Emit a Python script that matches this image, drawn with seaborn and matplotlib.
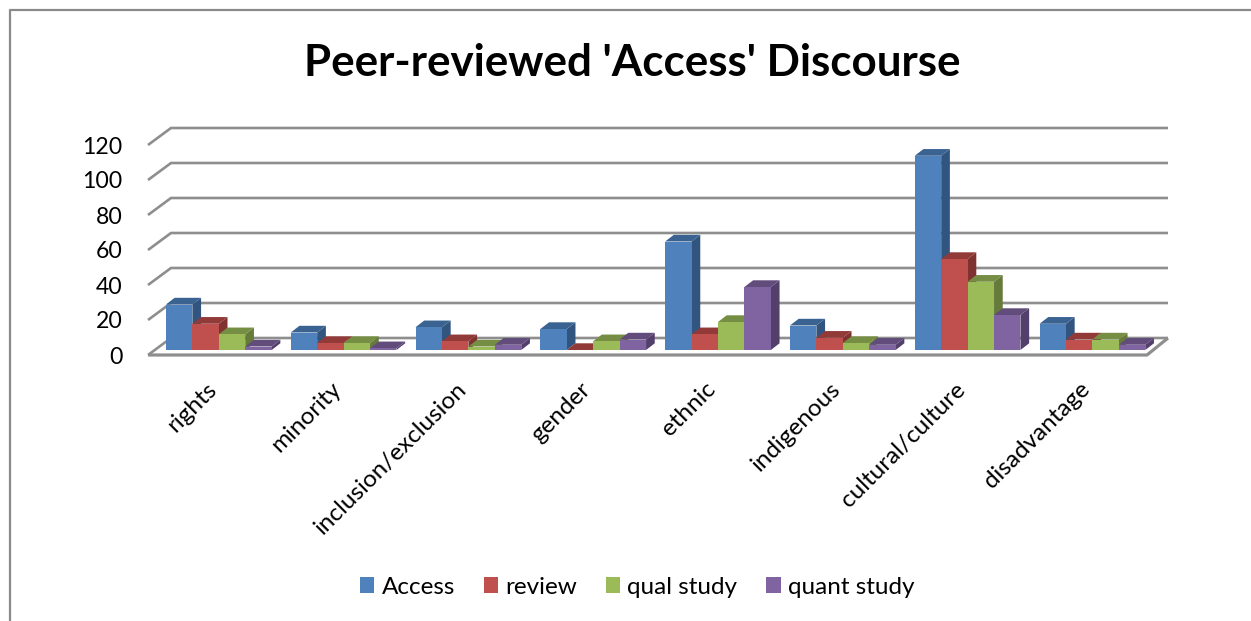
import matplotlib
matplotlib.use("Agg")
import matplotlib.pyplot as plt
from matplotlib.patches import Polygon, Patch
from matplotlib.transforms import ScaledTranslation
import pandas as pd
import seaborn as sns

categories = ["rights", "minority", "inclusion/exclusion", "gender", "ethnic",
              "indigenous", "cultural/culture", "disadvantage"]
series_names = ["Access", "review", "qual study", "quant study"]
access = [26, 10, 13, 12, 62, 14, 111, 15]
review = [15, 4, 5, 0, 9, 7, 52, 6]
qual_study = [9, 4, 2, 5, 16, 4, 39, 6]
quant_study = [2, 1, 3, 6, 36, 3, 20, 3]
y_ticks = [0, 20, 40, 60, 80, 100, 120]
front_colors = ["#4F81BD", "#C0504D", "#9BBB59", "#8064A2"]
top_colors = ["#3A6391", "#923A38", "#758E43", "#614C7C"]
side_colors = ["#32557F", "#7F322F", "#667B3A", "#533F6C"]

W, H = 1251, 621
sns.set_theme(style="white")
plt.rcParams["font.family"] = ["Lato", "DejaVu Sans"]
fig = plt.figure(figsize=(W / 100, H / 100), dpi=100)
fig.patch.set_facecolor("white")

# axes box in pixels: front-left of floor to back-right of the wall
L, R, T, B = 148, 1168, 128, 355
ax = fig.add_axes([L / W, 1 - B / H, (R - L) / W, (B - T) / H])
px_per_unit = 1.75
px_per_cat = 124.8
x0_px = 218.8
ax.set_facecolor("none")

long = pd.DataFrame({
    "category": categories * 4,
    "series": [s for s in series_names for _ in categories],
    "value": access + review + qual_study + quant_study,
})
floor = 5 / px_per_unit
sns.barplot(data=long, x="category", y="value", hue="series", order=categories,
            hue_order=series_names, palette=front_colors, width=0.847, gap=0,
            bottom=floor, saturation=1, legend=False, ax=ax, linewidth=0, errorbar=None)
ax.set_xlim((L - x0_px) / px_per_cat, (R - x0_px) / px_per_cat)
ax.set_ylim(0, (B - T) / px_per_unit)
ax.set_xlabel("")
ax.set_ylabel("")
for s in ax.spines.values():
    s.set_visible(False)

# wall / floor geometry (depth of the chart box)
wall_dx = 23 / px_per_cat
wall_dy = 17 / px_per_unit
xl, xr = ax.get_xlim()
xr_front = xr - wall_dx + 2 / px_per_cat
grid_c = "#8E8E8E"
for v in y_ticks:
    ax.plot([xl, xl + wall_dx, xr], [v, v + wall_dy, v + wall_dy], color=grid_c, lw=1.9,
            zorder=1, clip_on=False, solid_capstyle="butt", solid_joinstyle="miter")
ax.plot([xl, xr_front, xr], [0, 0, wall_dy], color=grid_c, lw=2.3, zorder=1, clip_on=False,
        solid_capstyle="butt")

# extrude the bars that seaborn drew
depth_x = 8.7 / px_per_cat
depth_y = 6.7 / px_per_unit
items = []
for idx, container in enumerate(ax.containers):
    for bar in container:
        items.append((bar.get_x(), idx, bar))
z = 2
for x_, idx, bar in sorted(items, key=lambda t: t[0]):
    w = bar.get_width()
    y0 = bar.get_y()
    y1 = y0 + bar.get_height()
    ax.add_patch(Polygon([(x_ + w, y0), (x_ + w + depth_x, y0 + depth_y),
                          (x_ + w + depth_x, y1 + depth_y), (x_ + w, y1)],
                         closed=True, fc=side_colors[idx], ec="none", zorder=z))
    ax.add_patch(Polygon([(x_, y1), (x_ + depth_x, y1 + depth_y),
                          (x_ + w + depth_x, y1 + depth_y), (x_ + w, y1)],
                         closed=True, fc=top_colors[idx], ec="none", zorder=z + 0.1))
    bar.set_zorder(z + 0.2)
    z += 1

ax.set_yticks(y_ticks)
ax.tick_params(axis="y", length=0, pad=18.5, labelsize=16.6, labelcolor="black")
ax.tick_params(axis="x", length=0, pad=17, labelsize=17.5, labelcolor="black")
shift = ScaledTranslation(-13 / 100, 0, fig.dpi_scale_trans)
for lab in ax.get_xticklabels():
    lab.set(rotation=45, ha="right", va="top", rotation_mode="anchor")
    lab.set_transform(lab.get_transform() + shift)

fig.text(632.5 / W, 1 - 62.5 / H, "Peer-reviewed 'Access' Discourse", ha="center", va="center",
         fontsize=31.6, fontweight="bold", color="black")

handles = [Patch(fc=c, ec="none", label=n) for c, n in zip(front_colors, series_names)]
fig.legend(handles=handles, loc="center", bbox_to_anchor=(637 / W, 1 - 587 / H), ncol=4,
           frameon=False, fontsize=17.5, handlelength=0.6, handleheight=0.6,
           handletextpad=0.29, columnspacing=1.18, labelcolor="black")

# outer chart frame: left and top edges only reach the picture
fig.add_artist(plt.Line2D([9.5 / W, 9.5 / W, 1],
                          [0, 1 - 9.5 / H, 1 - 9.5 / H], color="#8A8A8A", lw=1.6))

fig.savefig("out.png", dpi=100)
